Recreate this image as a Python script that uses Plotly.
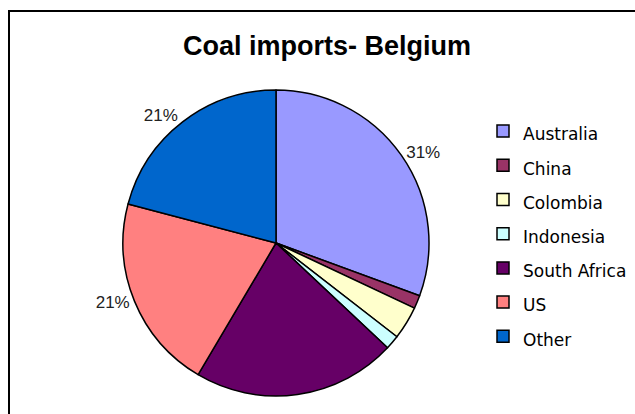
import plotly.graph_objects as go

categories = ["Australia", "China", "Colombia", "Indonesia", "South Africa", "US", "Other"]
shares = [30.6, 1.4, 3.5, 1.5, 21.5, 20.6, 20.9]
colors = ["#9999FF", "#993366", "#FFFFCC", "#CCFFFF", "#660066", "#FF8080", "#0066CC"]
show_label = [True, False, False, False, False, True, True]

W, H = 635, 414
cx, cy, r = 276, 243, 153

texts = ["%{percent:.0%}" if s else "" for s in show_label]
legend_names = ["<span style='font-size:17px'>%s</span>" % c for c in categories]

fig = go.Figure(go.Pie(
    labels=legend_names,
    values=shares,
    sort=False,
    direction="clockwise",
    rotation=0,
    marker=dict(colors=colors, line=dict(color="black", width=1.5)),
    texttemplate=texts,
    textposition="outside",
    textfont=dict(family="Liberation Sans, Arial", size=17, color="#222222"),
    hoverinfo="label+percent",
    domain=dict(x=[(cx - r) / W, (cx + r) / W], y=[1 - (cy + r) / H, 1 - (cy - r) / H]),
))

fig.update_layout(
    width=W, height=H,
    margin=dict(l=0, r=0, t=0, b=0),
    paper_bgcolor="white",
    showlegend=True,
    title=dict(text="<b>Coal imports- Belgium</b>", x=327 / W, y=1 - 46 / H,
               xanchor="center", yanchor="middle",
               font=dict(family="Liberation Sans, Arial", size=27, color="black")),
    legend=dict(x=483 / W, y=1 - 109 / H, xanchor="left", yanchor="top",
                font=dict(family="DejaVu Sans", size=24, color="black"),
                bgcolor="rgba(0,0,0,0)"),
    shapes=[dict(type="rect", xref="paper", yref="paper",
                 x0=9 / W, x1=1.2, y0=-0.2, y1=1 - 11 / H,
                 line=dict(color="black", width=2), layer="above")],
)

fig.write_html("out.html")
